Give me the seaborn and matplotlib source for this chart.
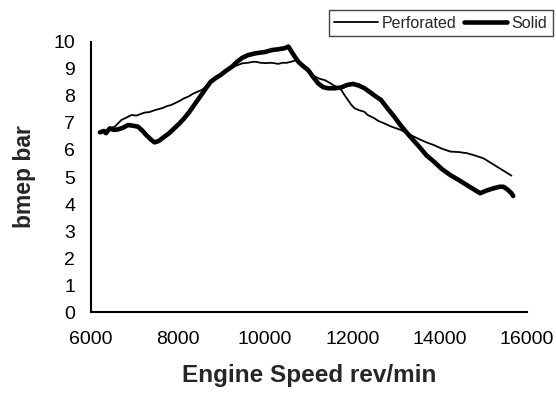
import matplotlib
matplotlib.use("Agg")
import matplotlib.pyplot as plt
import pandas as pd
import seaborn as sns

# ---- data ----
speed_perf = [6212, 6350, 6450, 6553, 6705, 6800, 6933, 7050, 7150, 7235, 7350, 7450,
              7538, 7650, 7750, 7843, 7950, 8050, 8145, 8250, 8350, 8448, 8550, 8600,
              8675, 8750, 8800, 8903, 9000, 9100, 9169, 9250, 9350, 9472, 9600, 9700,
              9777, 9900, 10000, 10154, 10300, 10400, 10495, 10600, 10723, 10837, 10950,
              11050, 11142, 11250, 11369, 11460, 11558, 11650, 11747, 11820, 11899, 11970,
              12051, 12150, 12279, 12354, 12507, 12600, 12734, 12900, 13112, 13300, 13492,
              13700, 13871, 14050, 14249, 14450, 14629, 14800, 15009, 15150, 15300, 15500,
              15650]
bmep_perf = [6.62, 6.72, 6.80, 6.86, 7.11, 7.18, 7.29, 7.27, 7.33, 7.38, 7.40, 7.46,
             7.50, 7.55, 7.62, 7.66, 7.74, 7.82, 7.91, 7.98, 8.08, 8.15, 8.22, 8.28,
             8.40, 8.52, 8.60, 8.71, 8.82, 8.93, 9.00, 9.05, 9.12, 9.20, 9.22, 9.25,
             9.26, 9.22, 9.21, 9.22, 9.18, 9.22, 9.22, 9.26, 9.32, 9.14, 8.95,
             8.80, 8.71, 8.63, 8.58, 8.50, 8.40, 8.32, 8.22, 8.03, 7.85, 7.68,
             7.54, 7.47, 7.41, 7.29, 7.17, 7.07, 6.98, 6.86, 6.74, 6.58, 6.43,
             6.28, 6.18, 6.05, 5.94, 5.92, 5.88, 5.80, 5.69, 5.55, 5.40, 5.20,
             5.05]

speed_solid = [6212, 6300, 6350, 6439, 6530, 6628, 6740, 6855, 6950, 7083, 7180, 7274,
               7370, 7463, 7560, 7690, 7800, 7918, 8030, 8145, 8260, 8373, 8470, 8562,
               8652, 8752, 8870, 8980, 9100, 9244, 9350, 9472, 9600, 9777, 9900, 10000,
               10154, 10300, 10450, 10534, 10600, 10680, 10762, 10870, 10989, 11100, 11217,
               11330, 11444, 11600, 11747, 11880, 12013, 12150, 12279, 12400, 12543, 12657,
               12800, 12962, 13100, 13264, 13400, 13567, 13700, 13871, 14050, 14249, 14450,
               14629, 14780, 14932, 15080, 15236, 15380, 15464, 15550, 15650, 15690]
bmep_solid = [6.65, 6.70, 6.62, 6.80, 6.74, 6.76, 6.82, 6.92, 6.90, 6.86, 6.72, 6.55,
              6.40, 6.28, 6.33, 6.49, 6.62, 6.80, 6.97, 7.17, 7.40, 7.66, 7.88, 8.09,
              8.30, 8.52, 8.66, 8.77, 8.92, 9.08, 9.25, 9.40, 9.50, 9.57, 9.60, 9.62,
              9.69, 9.72, 9.76, 9.82, 9.65, 9.45, 9.26, 9.10, 8.95, 8.70, 8.46,
              8.32, 8.28, 8.28, 8.31, 8.40, 8.44, 8.38, 8.28, 8.14, 7.97, 7.85,
              7.55, 7.23, 6.93, 6.61, 6.36, 6.06, 5.80, 5.57, 5.30, 5.07, 4.88,
              4.70, 4.55, 4.40, 4.50, 4.58, 4.64, 4.64, 4.55, 4.40, 4.30]

series_names = ["Perforated", "Solid"]
x_ticks = [6000, 8000, 10000, 12000, 14000, 16000]
y_ticks = [0, 1, 2, 3, 4, 5, 6, 7, 8, 9, 10]
x_label = "Engine Speed rev/min"
y_label = "bmep bar"

# ---- styling ----
sns.set_theme(style="white")
plt.rcParams['font.family'] = ['Liberation Sans', 'DejaVu Sans']

W, H = 556, 398
fig = plt.figure(figsize=(W / 100, H / 100), dpi=100)
left, right, top, bottom = 90.7, 526.7, 41.7, 312.3
ax = fig.add_axes([left / W, 1 - bottom / H, (right - left) / W, (bottom - top) / H])

df_perf = pd.DataFrame({"speed": speed_perf, "bmep": bmep_perf})
df_solid = pd.DataFrame({"speed": speed_solid, "bmep": bmep_solid})

sns.lineplot(data=df_perf, x="speed", y="bmep", ax=ax, color="black", lw=1.3,
             estimator=None, sort=False, label=series_names[0])
sns.lineplot(data=df_solid, x="speed", y="bmep", ax=ax, color="black", lw=3.3,
             estimator=None, sort=False, label=series_names[1])

ax.set_xlim(6000, 16000)
ax.set_ylim(0, 10)
ax.set_xticks(x_ticks)
ax.set_yticks(y_ticks)
ax.set_xticklabels([str(t) for t in x_ticks])
ax.set_yticklabels([str(t) for t in y_ticks])

for s in ["top", "right"]:
    ax.spines[s].set_visible(False)
for s in ["left", "bottom"]:
    ax.spines[s].set_color("black")
    ax.spines[s].set_linewidth(1.5)

ax.tick_params(axis="both", direction="inout", length=11.5, width=1.5,
               colors="black", labelsize=14, labelcolor="black")
ax.tick_params(axis="x", pad=8)
ax.tick_params(axis="y", pad=5.3)

ax.set_xlabel(x_label, fontsize=17.5, fontweight="bold", labelpad=11)
ax.set_ylabel(y_label, fontsize=16.5, fontweight="bold", labelpad=13)

handles, labels = ax.get_legend_handles_labels()
ax.get_legend().remove()
leg = fig.legend(handles, labels, loc="upper right",
                 bbox_to_anchor=(552.7 / W, 1 - 10 / H), ncol=2,
                 fontsize=11.5, frameon=True, fancybox=False, framealpha=1,
                 edgecolor="#444444", handlelength=2.7, handletextpad=0.25,
                 columnspacing=0.5, borderpad=0.35, borderaxespad=0)
leg.get_frame().set_linewidth(1.0)

fig.savefig("out.png", dpi=100)
